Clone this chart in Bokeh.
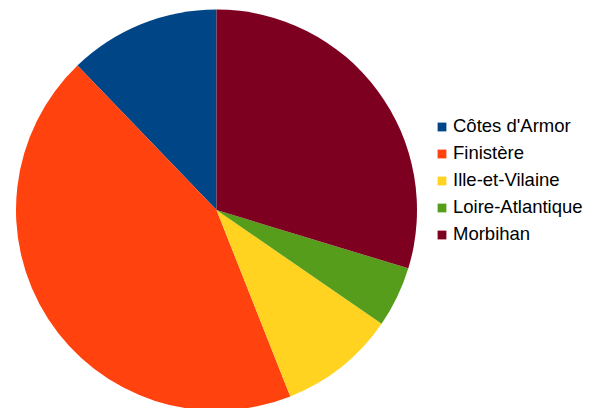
import numpy as np
from bokeh.plotting import figure
from bokeh.models import ColumnDataSource, Legend, LegendItem, Range1d
from bokeh.embed import file_html
from bokeh.resources import INLINE

departements = ["Côtes d'Armor", "Finistère", "Ille-et-Vilaine", "Loire-Atlantique", "Morbihan"]
parts = [12.2, 43.8, 9.4, 4.9, 29.7]
colors = ["#004586", "#ff420e", "#ffd320", "#579d1c", "#7e0021"]

W, H = 601, 408
cx, cy, r = 216.0, H - 209.5, 200.5

vals = np.array(parts, dtype=float)
frac = vals / vals.sum()
ends = np.pi / 2 + 2 * np.pi * np.cumsum(frac)
starts = ends - 2 * np.pi * frac

p = figure(width=W, height=H, output_backend="svg", toolbar_location=None,
           x_range=Range1d(0, W), y_range=Range1d(0, H), min_border=0,
           outline_line_color=None)
p.axis.visible = False
p.grid.visible = False

renderers = []
for i in range(len(parts)):
    s = ColumnDataSource(dict(x=[cx], y=[cy], start=[starts[i]], end=[ends[i]], color=[colors[i]]))
    rr = p.wedge(x="x", y="y", radius=r, start_angle="start", end_angle="end",
                 fill_color="color", line_color=None, source=s)
    renderers.append(rr)

items = [LegendItem(label=departements[i], renderers=[renderers[i]]) for i in range(len(parts))]
legend = Legend(items=items, location=(436, 163), orientation="vertical",
                glyph_width=11, glyph_height=11, label_standoff=6,
                label_text_font="Liberation Sans", label_text_font_size="18.5px",
                label_text_color="#000000", spacing=5, padding=0, margin=0,
                border_line_color=None, background_fill_alpha=0, label_height=21)
p.add_layout(legend, "center")

open("out.html", "w").write(file_html(p, INLINE))
